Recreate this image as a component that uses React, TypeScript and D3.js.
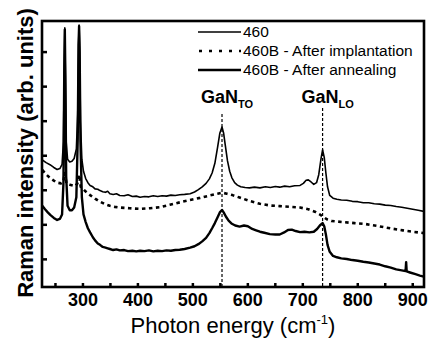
import React from "react";
import * as d3 from "d3";

// ---- data (wavenumber cm^-1, intensity arb. units) ----
const s460: [number, number][] = [
  [226, 3.88], [233, 3.8], [240, 3.74], [247, 3.66], [253, 3.6], [258, 3.63], [262, 3.75], [264.5, 4.4],
  [266, 6.6], [267, 7.7], [268, 6.4], [269.5, 4.4], [272, 3.9], [276, 3.82], [280, 3.84], [284, 3.92],
  [288, 4.2], [290.5, 5.2], [292, 7.2], [293, 7.78], [294, 7.1], [295.5, 5.0], [298, 3.9], [301, 3.55],
  [305, 3.34], [309, 3.22], [313, 3.14], [318, 3.1], [322, 3.04], [327, 3.03], [331, 2.99], [336, 2.96],
  [341, 2.94], [345, 2.97], [349, 2.9], [355, 2.88], [361, 2.9], [367, 2.85], [375, 2.84], [382, 2.87],
  [390, 2.82], [397, 2.83], [404, 2.8], [412, 2.82], [420, 2.81], [428, 2.84], [436, 2.82], [444, 2.84],
  [452, 2.83], [460, 2.86], [468, 2.85], [476, 2.87], [485, 2.88], [495, 2.9], [503, 2.95], [510, 3.02],
  [517, 3.1], [524, 3.2], [530, 3.33], [535, 3.5], [540, 3.78], [545, 4.25], [549, 4.65], [553, 4.83],
  [556, 4.65], [559, 4.3], [563, 3.85], [567, 3.55], [571, 3.36], [576, 3.22], [581, 3.15], [587, 3.1],
  [595, 3.08], [603, 3.07], [612, 3.09], [622, 3.07], [632, 3.1], [641, 3.08], [650, 3.11], [658, 3.09],
  [667, 3.12], [676, 3.1], [685, 3.13], [695, 3.14], [701, 3.2], [706, 3.29], [710, 3.3], [715, 3.24],
  [720, 3.17], [725, 3.22], [729, 3.45], [733, 3.9], [736, 4.17], [739, 3.95], [742, 3.5], [745, 3.1],
  [749, 2.85], [755, 2.77], [762, 2.74], [770, 2.72], [780, 2.71], [790, 2.68], [800, 2.67], [810, 2.64],
  [820, 2.64], [830, 2.61], [840, 2.6], [850, 2.57], [860, 2.56], [870, 2.53], [880, 2.51], [890, 2.48],
  [900, 2.45], [910, 2.42], [920, 2.39],
];

const s460Implant: [number, number][] = [
  [226, 3.59], [233, 3.46], [240, 3.36], [247, 3.28], [253, 3.22], [260, 3.2], [264, 3.24], [267, 3.5],
  [270, 3.2], [278, 3.15], [286, 3.12], [290, 3.2], [293, 3.45], [296, 3.1], [300, 3.04], [304, 2.98],
  [313, 2.86], [322, 2.76], [331, 2.67], [340, 2.6], [349, 2.55], [358, 2.52], [367, 2.5], [385, 2.48],
  [404, 2.46], [422, 2.48], [440, 2.51], [458, 2.58], [476, 2.65], [495, 2.72], [513, 2.78], [531, 2.85],
  [545, 2.9], [553, 2.93], [562, 2.9], [572, 2.86], [585, 2.79], [603, 2.69], [622, 2.61], [640, 2.56],
  [658, 2.54], [676, 2.52], [695, 2.5], [710, 2.45], [722, 2.38], [731, 2.3], [738, 2.22], [745, 2.15],
  [752, 2.11], [772, 2.08], [794, 2.05], [815, 2.02], [838, 1.96], [862, 1.89], [882, 1.84], [900, 1.8],
  [920, 1.76],
];

const s460Anneal: [number, number][] = [
  [226, 2.55], [231, 2.45], [236, 2.36], [241, 2.28], [247, 2.2], [253, 2.14], [258, 2.17], [262, 2.3],
  [264.5, 3.2], [266, 6.4], [267, 7.65], [268, 6.3], [269.5, 3.4], [272, 2.55], [276, 2.42], [280, 2.42],
  [284, 2.5], [288, 2.8], [290.5, 4.5], [292, 7.2], [293, 7.75], [294, 7.0], [295.5, 4.4], [298, 2.8],
  [301, 2.3], [305, 2.08], [309, 1.9], [313, 1.78], [318, 1.64], [322, 1.55], [327, 1.46], [331, 1.42],
  [336, 1.36], [341, 1.34], [345, 1.32], [349, 1.3], [355, 1.27], [361, 1.29], [367, 1.26], [375, 1.27],
  [382, 1.24], [390, 1.25], [397, 1.23], [404, 1.25], [412, 1.24], [420, 1.26], [428, 1.23], [436, 1.25],
  [444, 1.24], [452, 1.26], [460, 1.25], [468, 1.27], [476, 1.28], [485, 1.3], [495, 1.34], [503, 1.38],
  [510, 1.44], [517, 1.52], [524, 1.62], [530, 1.76], [535, 1.9], [540, 2.05], [545, 2.22], [549, 2.36],
  [553, 2.43], [556, 2.36], [560, 2.24], [565, 2.12], [571, 2.03], [577, 1.98], [585, 1.95], [593, 1.98],
  [600, 1.96], [608, 1.88], [615, 1.84], [622, 1.8], [630, 1.77], [640, 1.73], [650, 1.72], [658, 1.72],
  [666, 1.78], [673, 1.85], [680, 1.86], [687, 1.82], [695, 1.79], [703, 1.8], [712, 1.78], [720, 1.8],
  [726, 1.88], [731, 1.98], [736, 2.05], [739, 1.96], [742, 1.72], [745, 1.42], [749, 1.22], [755, 1.1],
  [762, 1.06], [770, 1.03], [780, 1.01], [790, 0.98], [800, 0.96], [810, 0.93], [820, 0.91], [830, 0.88],
  [840, 0.85], [850, 0.8], [860, 0.76], [870, 0.71], [880, 0.68], [887, 0.66], [888, 0.92], [889, 0.65],
  [895, 0.62], [905, 0.57], [913, 0.53], [920, 0.5],
];

const xTicksMajor = [300, 400, 500, 600, 700, 800, 900];
const xTicksMinor = [250, 300, 350, 400, 450, 500, 550, 600, 650, 700, 750, 800, 850, 900];
const yTicks = [1, 2, 3, 4, 5, 6, 7];
const peakLines = [553, 736];
const peakLabels = [
  { pos: 553, sub: "TO" },
  { pos: 736, sub: "LO" },
];
const legendLabels = ["460", "460B - After implantation", "460B - After annealing"];

const W = 429;
const H = 341;
const L = 42, R = 424, T = 21, B = 287;
const FONT = "'Liberation Sans', Arial, Helvetica, sans-serif";

export default function App() {
  const x = d3.scaleLinear().domain([225.5, 920.5]).range([L, R]);
  const y = d3.scaleLinear().domain([0.2, 7.9]).range([B, T]);
  const line = d3
    .line<[number, number]>()
    .x((d) => x(d[0]))
    .y((d) => y(d[1]))
    .curve(d3.curveLinear);

  const legendY = [32, 51, 70];

  return (
    <svg
      width={W}
      height={H}
      style={{ position: "absolute", left: 0, top: 0, background: "#fff" }}
      fontFamily={FONT}
    >
      <rect x={0} y={0} width={W} height={H} fill="#fff" />
      <defs>
        <clipPath id="plotclip">
          <rect x={L} y={T} width={R - L} height={B - T} />
        </clipPath>
      </defs>

      {/* peak dashed vertical lines */}
      {peakLines.map((p, i) => (
        <line
          key={"pl" + i}
          x1={x(p)}
          x2={x(p)}
          y1={i === 0 ? 114 : 108}
          y2={B}
          stroke="#000"
          strokeWidth={1.2}
          strokeDasharray="3,2"
        />
      ))}

      <g clipPath="url(#plotclip)" fill="none" stroke="#000" strokeLinejoin="round">
        <path d={line(s460) || ""} strokeWidth={1.6} />
        <path d={line(s460Implant) || ""} strokeWidth={2.6} strokeDasharray="3.5,3.5" />
        <path d={line(s460Anneal) || ""} strokeWidth={2.4} />
      </g>

      {/* frame */}
      <rect x={L} y={T} width={R - L} height={B - T} fill="none" stroke="#000" strokeWidth={2.6} />

      {/* x ticks */}
      {xTicksMinor.map((t) => (
        <line key={"xt" + t} x1={x(t)} x2={x(t)} y1={B} y2={B - 4} stroke="#000" strokeWidth={2.5} />
      ))}
      {xTicksMajor.map((t) => (
        <text
          key={"xl" + t}
          x={x(t)}
          y={306}
          textAnchor="middle"
          fontSize={18}
          fontWeight="bold"
        >
          {t}
        </text>
      ))}

      {/* y ticks */}
      {yTicks.map((t) => (
        <line key={"yt" + t} x1={L} x2={L + 5} y1={y(t)} y2={y(t)} stroke="#000" strokeWidth={2.5} />
      ))}

      {/* axis titles */}
      <text x={233} y={333} textAnchor="middle" fontSize={22}>
        Photon energy (cm
        <tspan fontSize={13} dy={-9}>-1</tspan>
        <tspan dy={9}>)</tspan>
      </text>
      <text
        transform="translate(33,153) rotate(-90)"
        textAnchor="middle"
        fontSize={22}
        fontWeight="bold"
      >
        Raman intensity (arb. units)
      </text>

      {/* peak labels */}
      {peakLabels.map((p) => (
        <text key={"lab" + p.sub} x={x(p.pos) - 21} y={103} fontSize={18} fontWeight="bold">
          GaN
          <tspan fontSize={11} dy={5}>{p.sub}</tspan>
        </text>
      ))}

      {/* legend */}
      <line x1={198} x2={241} y1={legendY[0]} y2={legendY[0]} stroke="#000" strokeWidth={1.5} />
      <line
        x1={199}
        x2={241}
        y1={legendY[1]}
        y2={legendY[1]}
        stroke="#000"
        strokeWidth={2.6}
        strokeDasharray="3,7"
      />
      <line x1={198} x2={241} y1={legendY[2]} y2={legendY[2]} stroke="#000" strokeWidth={2.4} />
      {legendLabels.map((l, i) => (
        <text key={"lg" + i} x={243} y={legendY[i] + 5} fontSize={15.5}>
          {l}
        </text>
      ))}
    </svg>
  );
}
